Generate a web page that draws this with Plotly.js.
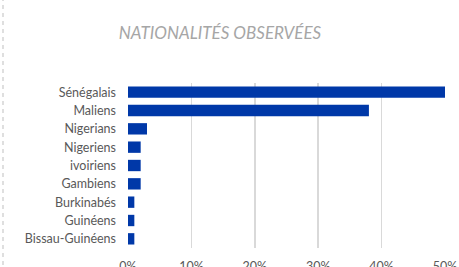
<!DOCTYPE html>
<html><head><meta charset="utf-8">
<script src="https://cdn.plot.ly/plotly-3.0.1.min.js"></script>
<style>html,body{margin:0;padding:0;background:#fff;}#c{width:459px;height:267px;}</style>
</head><body><div id="c"></div>
<script>
const categories = ["Sénégalais","Maliens","Nigerians","Nigeriens","ivoiriens","Gambiens","Burkinabés","Guinéens","Bissau-Guinéens"];
const values = [0.50,0.38,0.03,0.02,0.02,0.02,0.01,0.01,0.01];
const tickValues = [0,0.1,0.2,0.3,0.4,0.5];
const tickLabels = ["0%","10%","20%","30%","40%","50%"];

const data = [{
  type:'bar', orientation:'h',
  x: values, y: categories,
  marker:{color:'#0038A8'},
  width:0.62,
  hoverinfo:'none'
}];
const layout = {
  width:459, height:267,
  margin:{l:128,r:14,t:83,b:19},
  paper_bgcolor:'#fff', plot_bgcolor:'#fff',
  showlegend:false,
  font:{family:'Lato, sans-serif', color:'#595959', size:12.5},
  title:{text:'NATIONALITÉS OBSERVÉES', font:{family:'Lato, sans-serif', size:17, color:'#a6a6a6', style:'italic'},
    xref:'container', x:220/459, xanchor:'center', yref:'container', y:1-33.5/267, yanchor:'middle'},
  xaxis:{range:[0,0.5], tickvals:tickValues, ticktext:tickLabels, showgrid:true, gridcolor:'#d9d9d9', gridwidth:1.5,
    zeroline:false, showline:false, ticks:'', ticklabelstandoff:9, tickfont:{size:12.5,color:'#595959'}, fixedrange:true},
  yaxis:{autorange:false, range:[8.5,-0.5], type:'category', categoryorder:'array', categoryarray:categories,
    showgrid:false, zeroline:false, showline:false, ticks:'', ticklabelstandoff:11, tickfont:{size:12.5,color:'#595959'}},
  shapes:[{type:'line', xref:'paper', yref:'paper', x0:-125/317, x1:-125/317, y0:-0.2, y1:1.6,
    line:{color:'#bfbfbf', width:1, dash:'4px,4px'}}]
};
Plotly.newPlot('c', data, layout, {staticPlot:true, displayModeBar:false});
</script></body></html>
